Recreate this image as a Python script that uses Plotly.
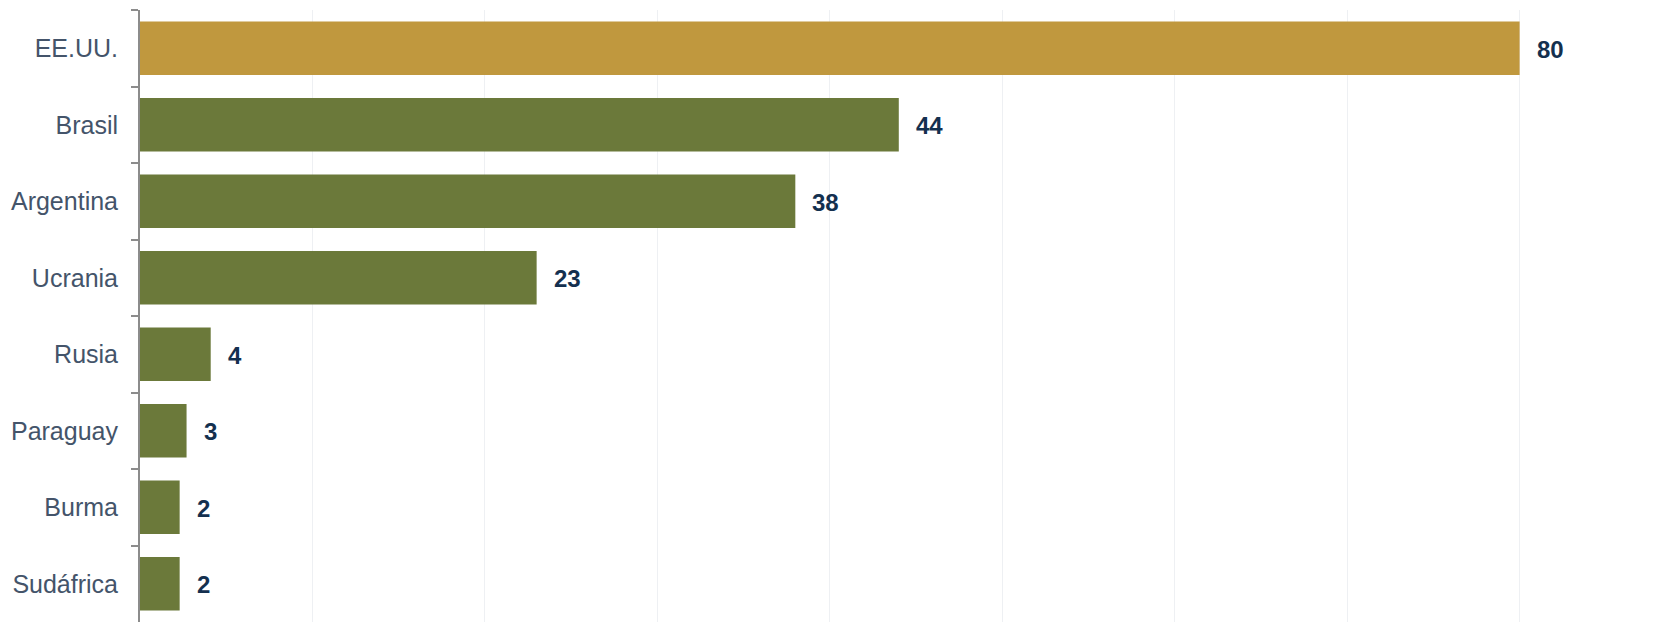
import plotly.graph_objects as go

# Countries and their values
countries = ["EE.UU.", "Brasil", "Argentina", "Ucrania", "Rusia", "Paraguay", "Burma", "Sudáfrica"]
values = [80, 44, 38, 23, 4.1, 2.7, 2.3, 2.3]
labels = ["80", "44", "38", "23", "4", "3", "2", "2"]

GOLD = "#C0983E"
OLIVE = "#6B793A"
colors = [GOLD if c == "EE.UU." else OLIVE for c in countries]

fig = go.Figure(
    go.Bar(
        x=values,
        y=countries,
        orientation="h",
        marker=dict(color=colors, line=dict(width=0)),
        hoverinfo="skip",
    )
)

for c, v, t in zip(countries, values, labels):
    fig.add_annotation(
        x=v, y=c, text=f"<b>{t}</b>", showarrow=False,
        xanchor="left", yanchor="middle", xshift=15, yshift=-1,
        font=dict(family="Liberation Sans, Arial", size=24, color="#14304F"),
    )

fig.update_layout(
    width=1680,
    height=623,
    margin=dict(l=140, r=0, t=10, b=1),
    paper_bgcolor="white",
    plot_bgcolor="white",
    bargap=0.3,
    showlegend=False,
    font=dict(family="Liberation Sans, Arial", size=25, color="#44546A"),
    xaxis=dict(
        range=[0, 89.3],
        dtick=10,
        showgrid=True,
        gridcolor="#EEF0F3",
        gridwidth=1,
        zeroline=False,
        showticklabels=False,
        showline=False,
        fixedrange=True,
    ),
    yaxis=dict(
        categoryorder="array",
        categoryarray=countries,
        autorange="reversed",
        showline=True,
        linecolor="#8C8C8C",
        linewidth=2,
        ticks="outside",
        tickson="boundaries",
        ticklen=7,
        tickwidth=2,
        tickcolor="#8C8C8C",
        ticklabelstandoff=15,
        showgrid=False,
        tickfont=dict(family="Liberation Sans, Arial", size=25, color="#44546A"),
        fixedrange=True,
    ),
)

fig.write_html("out.html")
